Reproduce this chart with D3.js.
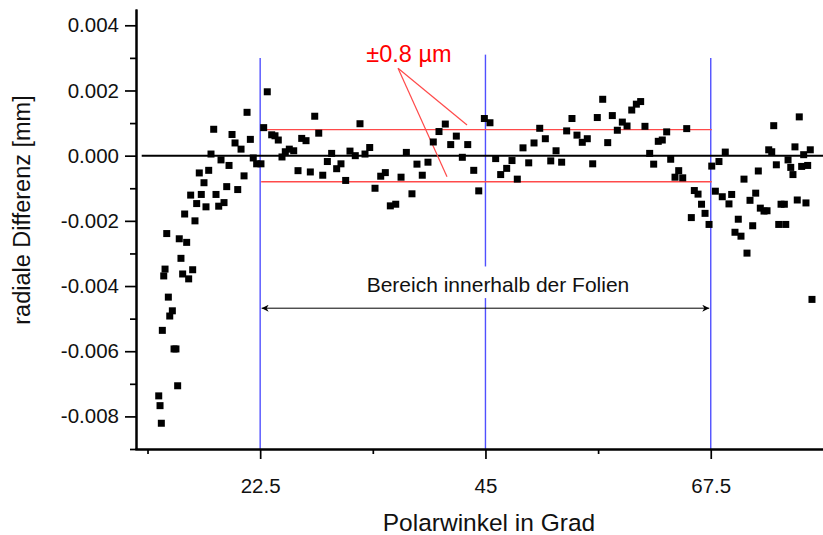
<!DOCTYPE html>
<html>
<head>
<meta charset="utf-8">
<script src="https://cdn.jsdelivr.net/npm/d3@7"></script>
<style>
    body { margin: 0; background: #fff; }
    text { font-family: "Liberation Sans", Arial, Helvetica, sans-serif; fill: #111; }
</style>
</head>
<body>
<svg id="chart" width="823" height="535"></svg>
<script>

// measured points: polar angle (deg) and radial difference (mm)
var angleDeg = [
    12.37, 12.50, 12.63, 12.73, 12.87, 13.00, 13.17, 13.33, 13.47, 13.73,
    13.90, 14.09, 14.26, 14.42, 14.59, 14.76, 14.96, 15.16, 15.36, 15.56,
    15.76, 15.99, 16.16, 16.42, 16.62, 16.89, 17.09, 17.36, 17.59, 17.86,
    18.09, 18.36, 18.59, 18.89, 19.16, 19.39, 19.69, 19.99, 20.26, 20.59,
    20.89, 21.19, 21.52, 21.81, 22.15, 22.58, 22.85, 23.21, 23.65, 23.98,
    24.31, 24.68, 25.01, 25.41, 25.85, 26.28, 26.65, 27.08, 27.51, 27.95,
    28.35, 28.75, 29.21, 29.64, 30.14, 30.57, 31.04, 31.47, 32.00, 32.47,
    32.97, 33.44, 33.97, 34.54, 35.00, 35.50, 36.04, 36.57, 37.10, 37.66,
    38.16, 38.69, 39.26, 39.79, 40.36, 40.99, 41.53, 42.09, 42.69, 43.23,
    43.83, 44.33, 44.89, 45.45, 46.02, 46.52, 47.12, 47.65, 48.18, 48.75,
    49.32, 49.85, 50.42, 50.98, 51.52, 52.05, 52.61, 53.11, 53.64, 54.14,
    54.67, 55.17, 55.71, 56.17, 56.71, 57.21, 57.67, 58.17, 58.67, 59.14,
    59.61, 60.07, 60.50, 60.93, 61.40, 61.80, 62.26, 62.66, 63.10, 63.50,
    63.93, 64.30, 64.70, 65.10, 65.56, 65.86, 66.23, 66.58, 66.93, 67.33,
    67.60, 67.96, 68.32, 68.65, 68.95, 69.32, 69.59, 69.92, 70.25, 70.52,
    70.82, 71.12, 71.42, 71.69, 71.99, 72.25, 72.45, 72.82, 73.12, 73.29,
    73.59, 73.79, 74.05, 74.29, 74.52, 74.85, 74.99, 75.22, 75.49, 75.71,
    75.91, 76.14, 76.34, 76.58, 76.78, 77.01, 77.18, 77.44, 77.61
];

var diffMm = [
    -0.00737, -0.00767, -0.00821, -0.00536, -0.00369, -0.00348, -0.00239, -0.00434, -0.00492, -0.00476,
    -0.00593, -0.00593, -0.00706, -0.00255, -0.00315, -0.00363, -0.00179, -0.00266, -0.00378, -0.00121,
    -0.00350, -0.00200, -0.00147, -0.00053, -0.00119, -0.00083, -0.00157, -0.00045, 0.00005, 0.00081,
    -0.00119, -0.00155, -0.00013, -0.00144, -0.00095, -0.00030, 0.00065, 0.00039, -0.00104, 0.00020,
    -0.00062, 0.00133, 0.00050, -0.00007, -0.00025, -0.00025, 0.00086, 0.00196, 0.00064, 0.00061,
    0.00048, -0.00004, 0.00012, 0.00020, 0.00015, -0.00046, 0.00053, 0.00046, -0.00050, 0.00121,
    0.00069, -0.00060, -0.00018, 0.00007, -0.00040, -0.00025, -0.00076, 0.00014, 0.00000, 0.00098,
    0.00005, 0.00025, -0.00100, -0.00063, -0.00052, -0.00154, -0.00149, -0.00066, 0.00010, -0.00117,
    -0.00026, -0.00060, -0.00020, 0.00042, 0.00074, 0.00097, 0.00034, 0.00060, -0.00005, 0.00034,
    -0.00045, -0.00108, 0.00114, 0.00101, -0.00009, -0.00058, -0.00039, -0.00015, -0.00072, 0.00024,
    -0.00022, 0.00039, 0.00084, 0.00052, -0.00016, 0.00015, -0.00020, 0.00076, 0.00114, 0.00063,
    0.00041, 0.00052, -0.00025, 0.00117, 0.00173, 0.00040, 0.00123, 0.00078, 0.00103, 0.00091,
    0.00140, 0.00158, 0.00166, 0.00090, 0.00007, -0.00026, 0.00044, 0.00048, 0.00073, -0.00011,
    -0.00066, -0.00046, -0.00068, 0.00083, -0.00190, -0.00107, -0.00118, -0.00149, -0.00177, -0.00211,
    -0.00032, -0.00109, -0.00018, -0.00126, 0.00011, -0.00148, -0.00119, -0.00235, -0.00195, -0.00247,
    -0.00072, -0.00299, -0.00137, -0.00215, -0.00115, -0.00047, -0.00161, -0.00170, -0.00169, 0.00018,
    0.00012, 0.00092, -0.00028, -0.00211, -0.00149, -0.00149, -0.00211, -0.00013, -0.00036, -0.00058,
    0.00027, -0.00136, 0.00119, -0.00033, 0.00003, -0.00145, -0.00030, 0.00018, -0.00441
];

var xMajorTicks = [22.5, 45, 67.5];
var xMinorTicks = [11.25, 33.75, 56.25, 78.75];
var yMajorTicks = [0.004, 0.002, 0, -0.002, -0.004, -0.006, -0.008];
var yMinorTicks = [0.003, 0.001, -0.001, -0.003, -0.005, -0.007, -0.009];

// vertical markers (foil region) and the tolerance band
var regionAngles = [22.5, 45, 67.5];
var bandMm = [0.0008, -0.0008];

var bandLabel = "±0.8 µm";
var regionLabel = "Bereich innerhalb der Folien";
var xTitle = "Polarwinkel in Grad";
var yTitle = "radiale Differenz [mm]";

var width = 823, height = 535;

var svg = d3.select("#chart");
svg.append("rect").attr("width", width).attr("height", height).attr("fill", "#fff");

var x = d3.scaleLinear().domain([10, 79]).range([135, 825.9]);
var y = d3.scaleLinear().domain([-0.009, 0.0045]).range([449, 9]);

var blue = "#5050ff", red = "#ff4a4a";

// blue vertical lines (middle one has a gap for the label)
svg.append("line")
    .attr("x1", x(regionAngles[0])).attr("x2", x(regionAngles[0]))
    .attr("y1", y(0.003)).attr("y2", y(-0.009))
    .attr("stroke", blue).attr("stroke-width", 1.4);
svg.append("line")
    .attr("x1", x(regionAngles[1])).attr("x2", x(regionAngles[1]))
    .attr("y1", y(0.0031)).attr("y2", y(-0.0034))
    .attr("stroke", blue).attr("stroke-width", 1.4);
svg.append("line")
    .attr("x1", x(regionAngles[1])).attr("x2", x(regionAngles[1]))
    .attr("y1", y(-0.00437)).attr("y2", y(-0.009))
    .attr("stroke", blue).attr("stroke-width", 1.4);
svg.append("line")
    .attr("x1", x(regionAngles[2])).attr("x2", x(regionAngles[2]))
    .attr("y1", y(0.003)).attr("y2", y(-0.009))
    .attr("stroke", blue).attr("stroke-width", 1.4);

// red tolerance band
svg.selectAll("line.band")
    .data(bandMm)
    .enter().append("line")
    .attr("class", "band")
    .attr("x1", x(regionAngles[0]) + 1).attr("x2", x(regionAngles[2]) + 1)
    .attr("y1", function (d) { return y(d); })
    .attr("y2", function (d) { return y(d); })
    .attr("stroke", red).attr("stroke-width", 1.4);

// zero line
svg.append("line")
    .attr("x1", x(10.67)).attr("x2", width)
    .attr("y1", y(0)).attr("y2", y(0))
    .attr("stroke", "#000").attr("stroke-width", 2);

// band label with pointer lines
var labelPos = [37.36, 0.00288];
var pointerFrom = [36.27, 0.00268];
var pointerTo = [[43.16, 0.00094], [41.16, -0.00065]];

svg.append("text")
    .attr("x", x(labelPos[0])).attr("y", y(labelPos[1]))
    .attr("text-anchor", "middle")
    .style("font-size", "23.5px")
    .style("fill", "#ff0000")
    .text(bandLabel);

svg.selectAll("line.pointer")
    .data(pointerTo)
    .enter().append("line")
    .attr("class", "pointer")
    .attr("x1", x(pointerFrom[0])).attr("y1", y(pointerFrom[1]))
    .attr("x2", function (d) { return x(d[0]); })
    .attr("y2", function (d) { return y(d[1]); })
    .attr("stroke", red).attr("stroke-width", 1.2);

// region label and double arrow
var defs = svg.append("defs");
["start", "end"].forEach(function (k) {
    defs.append("marker")
        .attr("id", "arrow-" + k)
        .attr("viewBox", "0 0 10 10")
        .attr("refX", k === "end" ? 10 : 0).attr("refY", 5)
        .attr("markerWidth", 9).attr("markerHeight", 7)
        .attr("markerUnits", "userSpaceOnUse")
        .attr("orient", "auto")
        .append("path")
        .attr("d", k === "end" ? "M0,0 L10,5 L0,10 L3,5 Z" : "M10,0 L0,5 L10,10 L7,5 Z")
        .attr("fill", "#000");
});

svg.append("line")
    .attr("x1", x(regionAngles[0]) + 1.5).attr("x2", x(regionAngles[2]) - 1.5)
    .attr("y1", y(-0.00468)).attr("y2", y(-0.00468))
    .attr("stroke", "#000").attr("stroke-width", 1)
    .attr("marker-start", "url(#arrow-start)")
    .attr("marker-end", "url(#arrow-end)");

svg.append("text")
    .attr("x", x(46.25)).attr("y", y(-0.00417))
    .attr("text-anchor", "middle")
    .style("font-size", "21px")
    .text(regionLabel);

// data points
svg.append("g").selectAll("rect")
    .data(angleDeg)
    .enter().append("rect")
    .attr("x", function (d) { return x(d) - 3.5; })
    .attr("y", function (d, i) { return y(diffMm[i]) - 3.5; })
    .attr("width", 7).attr("height", 7)
    .attr("fill", "#000");

// axes
function styleAxis(g) {
    g.select(".domain").attr("stroke", "#000").attr("stroke-width", 2);
    g.selectAll(".tick line").attr("stroke", "#000").attr("stroke-width", 1.7);
    g.selectAll(".tick text").style("font-size", "20.5px").attr("fill", "#111");
}

var yAxisMajor = d3.axisLeft(y)
    .tickValues(yMajorTicks)
    .tickSize(11).tickSizeOuter(0).tickPadding(6)
    .tickFormat(function (d) { return d.toFixed(3); });

var yAxisMinor = d3.axisLeft(y)
    .tickValues(yMinorTicks)
    .tickSize(6).tickSizeOuter(0)
    .tickFormat("");

svg.append("g").attr("transform", "translate(136,0)").call(yAxisMinor).call(styleAxis);
svg.append("g").attr("transform", "translate(136,0)").call(yAxisMajor).call(styleAxis);

var xAxisMajor = d3.axisBottom(x)
    .tickValues(xMajorTicks)
    .tickSize(10).tickSizeOuter(0).tickPadding(19)
    .tickFormat(d3.format("~g"));

var xAxisMinor = d3.axisBottom(x)
    .tickValues(xMinorTicks)
    .tickSize(5).tickSizeOuter(0)
    .tickFormat("");

svg.append("g").attr("transform", "translate(0,449)").call(xAxisMinor).call(styleAxis);
svg.append("g").attr("transform", "translate(0,449)").call(xAxisMajor).call(styleAxis);

// axis titles
svg.append("text")
    .attr("x", 489).attr("y", 531)
    .attr("text-anchor", "middle")
    .style("font-size", "24.5px")
    .text(xTitle);

svg.append("text")
    .attr("transform", "translate(30,210) rotate(-90)")
    .attr("text-anchor", "middle")
    .style("font-size", "23.5px")
    .text(yTitle);

</script>
</body>
</html>
